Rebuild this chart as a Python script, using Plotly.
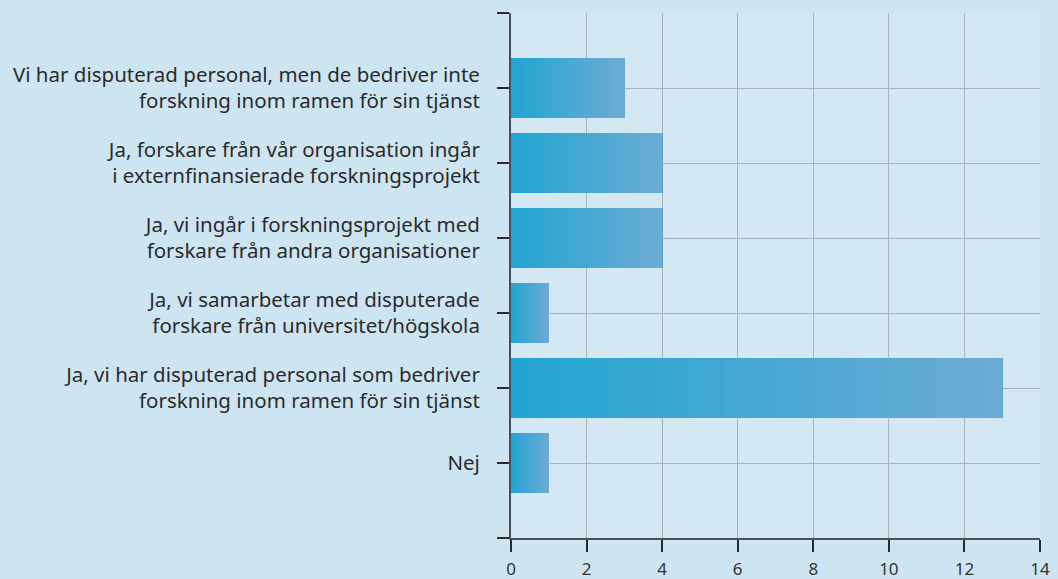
import plotly.graph_objects as go

# svarsalternativ, uppifrån och ned
categories = [
    "Vi har disputerad personal, men de bedriver inte<br>forskning inom ramen för sin tjänst",
    "Ja, forskare från vår organisation ingår<br>i externfinansierade forskningsprojekt",
    "Ja, vi ingår i forskningsprojekt med<br>forskare från andra organisationer",
    "Ja, vi samarbetar med disputerade<br>forskare från universitet/högskola",
    "Ja, vi har disputerad personal som bedriver<br>forskning inom ramen för sin tjänst",
    "Nej",
]
values = [3, 4, 4, 1, 13, 1]
x_ticks = [0, 2, 4, 6, 8, 10, 12, 14]

# gradient per stapel: segment som läggs ovanpå varandra
n_seg = 30
c0 = (34, 165, 208)
c1 = (108, 171, 213)

seg_y, seg_x, seg_base, seg_col = [], [], [], []
for i, v in enumerate(values):
    for k in range(n_seg):
        t = k / (n_seg - 1)
        col = tuple(round(c0[j] + (c1[j] - c0[j]) * t) for j in range(3))
        b = v * k / n_seg
        seg_y.append(i)
        seg_x.append(v - b)
        seg_base.append(b)
        seg_col.append("rgb(%d,%d,%d)" % col)

fig = go.Figure()
fig.add_trace(go.Bar(
    y=seg_y, x=seg_x, base=seg_base, orientation="h",
    width=0.8,
    marker=dict(color=seg_col, line=dict(width=0)),
    hoverinfo="skip", showlegend=False,
))

tickvals = list(range(-1, len(categories) + 1))
ticktext = [""] + categories + [""]

fig.update_layout(
    width=1058, height=579,
    margin=dict(l=511, r=18, t=13, b=41),
    paper_bgcolor="#cde5f1",
    plot_bgcolor="#d3e8f3",
    barmode="overlay",
    font=dict(family="Noto Sans", color="#2b2b2b"),
    xaxis=dict(
        range=[0, 14], tickvals=x_ticks,
        showgrid=True, gridcolor="#a8b3bb", gridwidth=1,
        showline=True, linecolor="#4a4f55", linewidth=2,
        ticks="outside", ticklen=12, tickwidth=2, tickcolor="#2b2b2b",
        tickfont=dict(size=17, color="#333"),
        zeroline=False, automargin=False, ticklabelstandoff=3,
    ),
    yaxis=dict(
        range=[len(categories), -1],
        tickvals=tickvals, ticktext=ticktext,
        showgrid=True, gridcolor="#a8b3bb", gridwidth=1,
        showline=True, linecolor="#4a4f55", linewidth=2,
        ticks="outside", ticklen=12, tickwidth=2, tickcolor="#2b2b2b",
        tickfont=dict(size=20.5, color="#2b2b2b"),
        zeroline=False, ticklabelstandoff=13, automargin=False,
    ),
)

fig.write_html("out.html", config={"displayModeBar": False},
               post_script="document.body.style.margin='0';")
